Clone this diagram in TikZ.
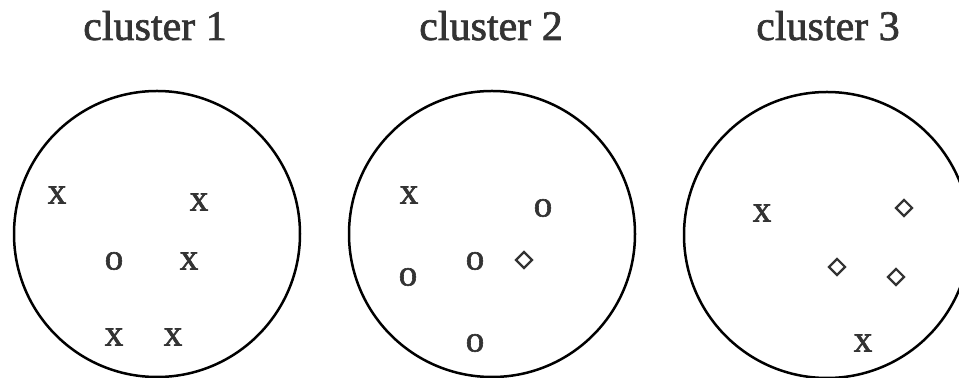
\documentclass[tikz,border=0pt]{standalone}
\usepackage{fontspec}
\setmainfont{Liberation Serif}
\newfontfamily\heavyserif{Liberation Serif}[FakeBold=1.6]
\usetikzlibrary{shapes.geometric}
\definecolor{ink}{HTML}{333333}
\tikzset{
  clusterring/.style={draw=black, line width=1.25pt, circle, minimum size=143pt, inner sep=0pt},
  clusterlabel/.style={anchor=base, inner sep=0pt, text=ink, font=\heavyserif\fontsize{21}{25}\selectfont},
  xmark/.style={inner sep=0pt, text=ink, font=\heavyserif\fontsize{18.5}{20}\selectfont},
  omark/.style={inner sep=0pt, text=ink, font=\heavyserif\fontsize{18.5}{20}\selectfont},
  dmark/.style={diamond, draw=ink, line width=1.1pt, inner sep=0pt, minimum width=8.5pt, minimum height=8.5pt}
}
\begin{document}
\begin{tikzpicture}[x=0.5pt, y=-0.5pt]
\useasboundingbox (0,0) rectangle (959,378);
% clusters
\node[clusterring] (c1) at (157,234) {};
\node[clusterring] (c2) at (492,234) {};
\node[clusterring] (c3) at (827,235) {};
% labels
\node[clusterlabel] (l1) at (155,40) {cluster 1};
\node[clusterlabel] (l2) at (491,40) {cluster 2};
\node[clusterlabel] (l3) at (828,40) {cluster 3};
% cluster 1 members
\node[xmark] (a1) at (57,195) {x};
\node[xmark] (a2) at (199,202) {x};
\node[omark] (a3) at (114,261) {o};
\node[xmark] (a4) at (189,261) {x};
\node[xmark] (a5) at (114,337) {x};
\node[xmark] (a6) at (173,337) {x};
% cluster 2 members
\node[xmark] (b1) at (409,195) {x};
\node[omark] (b2) at (543,208) {o};
\node[omark] (b3) at (475,261) {o};
\node[dmark] (b4) at (524,260) {};
\node[omark] (b5) at (408,277) {o};
\node[omark] (b6) at (475,343) {o};
% cluster 3 members
\node[xmark] (d1) at (762,213) {x};
\node[dmark] (d2) at (904,208) {};
\node[dmark] (d3) at (837,267) {};
\node[dmark] (d4) at (896,277) {};
\node[xmark] (d5) at (863,343) {x};
\end{tikzpicture}
\end{document}
